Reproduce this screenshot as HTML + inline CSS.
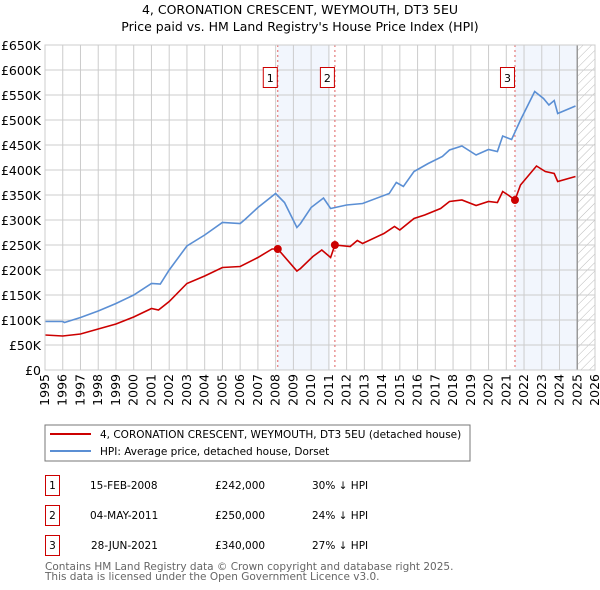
<!DOCTYPE html>
<html><head><meta charset="utf-8"><style>
body{margin:0;background:#fff;width:600px;height:590px;overflow:hidden;font-family:"DejaVu Sans","Liberation Sans",sans-serif;}
svg{position:absolute;left:0;top:0}
</style></head><body>
<svg id="c" width="600" height="590" font-family="DejaVu Sans, Liberation Sans, sans-serif">
<text x="300" y="14" text-anchor="middle" font-size="12.5">4, CORONATION CRESCENT, WEYMOUTH, DT3 5EU</text>
<text x="300" y="31" text-anchor="middle" font-size="12.5">Price paid vs. HM Land Registry's House Price Index (HPI)</text>
<defs><pattern id="h" width="6" height="6" patternUnits="userSpaceOnUse" patternTransform="rotate(45)"><line x1="0" y1="0" x2="0" y2="6" stroke="#bbb" stroke-width="1"/></pattern></defs>
<g id="g"></g>
<rect x="45" y="425" width="425" height="36" fill="#fff" stroke="#777"/>
<line x1="50" y1="434" x2="91" y2="434" stroke="#cc0000" stroke-width="2"/>
<text x="100" y="438" font-size="10.5">4, CORONATION CRESCENT, WEYMOUTH, DT3 5EU (detached house)</text>
<line x1="50" y1="451" x2="91" y2="451" stroke="#5b8fd4" stroke-width="2"/>
<text x="100" y="455" font-size="10.5">HPI: Average price, detached house, Dorset</text>
<g font-size="10.5">
<rect x="45.5" y="475.5" width="14" height="20" fill="none" stroke="#c00"/><text x="52.5" y="489" text-anchor="middle">1</text>
<text x="90" y="489">15-FEB-2008</text><text x="215" y="489">£242,000</text><text x="312" y="489">30% ↓ HPI</text>
<rect x="45.5" y="505.5" width="14" height="20" fill="none" stroke="#c00"/><text x="52.5" y="519" text-anchor="middle">2</text>
<text x="90" y="519">04-MAY-2011</text><text x="215" y="519">£250,000</text><text x="312" y="519">24% ↓ HPI</text>
<rect x="45.5" y="535.5" width="14" height="20" fill="none" stroke="#c00"/><text x="52.5" y="549" text-anchor="middle">3</text>
<text x="91" y="549">28-JUN-2021</text><text x="215" y="549">£340,000</text><text x="312" y="549">27% ↓ HPI</text>
</g>
<text x="45" y="570" font-size="10.5" fill="#666">Contains HM Land Registry data © Crown copyright and database right 2025.</text>
<text x="45" y="580" font-size="10.5" fill="#666">This data is licensed under the Open Government Licence v3.0.</text>
</svg>
<script>
const hpiYears=[1995,1996,1996.1,1997,1998,1999,2000,2001,2001.5,2002,2003,2004,2005,2006,2006.3,2007,2008,2008.5,2009.2,2009.4,2010,2010.7,2011.1,2012,2012.9,2014.4,2014.8,2015.2,2015.8,2016.6,2017.4,2017.8,2018.5,2019.3,2020,2020.5,2020.8,2021.3,2021.8,2022.6,2023.1,2023.4,2023.7,2023.9,2024.9];
const hpiValues=[97,97,95,105,118,133,150,173,172,200,248,270,295,293,302,325,353,335,285,293,325,344,323,330,333,353,375,367,397,413,427,440,448,430,441,437,468,461,500,557,543,530,539,513,528];
const ppYears=[1995,1996,1997,1998,1999,2000,2001,2001.4,2002,2003,2004,2005,2006,2007,2007.8,2008.12,2009.2,2009.4,2010.1,2010.6,2011.1,2011.34,2012.2,2012.6,2012.9,2014.1,2014.7,2015,2015.8,2016.4,2017.3,2017.8,2018.5,2019.3,2020,2020.5,2020.8,2021.1,2021.49,2021.8,2022.7,2023.2,2023.7,2023.9,2024.9];
const ppValues=[70,68,72,82,92,106,123,120,137,173,188,205,207,225,242,242,198,203,227,240,225,250,247,259,253,273,287,280,303,310,323,337,340,329,337,335,357,350,340,370,408,397,393,377,387];
const saleYears=[2008.12,2011.34,2021.49];
const saleValues=[242,250,340];
const saleLabels=["1","2","3"];
const yTicks=[0,50,100,150,200,250,300,350,400,450,500,550,600,650];
const yTickLabels=["£0","£50K","£100K","£150K","£200K","£250K","£300K","£350K","£400K","£450K","£500K","£550K","£600K","£650K"];
const xTicks=[1995,1996,1997,1998,1999,2000,2001,2002,2003,2004,2005,2006,2007,2008,2009,2010,2011,2012,2013,2014,2015,2016,2017,2018,2019,2020,2021,2022,2023,2024,2025,2026];
const X=y=>45+(y-1995)*(550/31), Y=v=>370-v*0.5;
const g=document.getElementById('g'),NS='http://www.w3.org/2000/svg';
function mk(t,a){const e=document.createElementNS(NS,t);for(const k in a)e.setAttribute(k,a[k]);g.appendChild(e);return e;}
let e;
e=mk('rect',{x:45,y:45,width:550,height:325,fill:'#fff'});


[[saleYears[0],2011.05],[saleYears[2],2025]].forEach(p=>{const a=p[0],b=p[1];e=mk('rect',{x:X(a),y:45,width:X(b)-X(a),height:325,fill:'#f2f6fd'});

});
e=mk('rect',{x:X(2025),y:45,width:X(2026)-X(2025),height:325,fill:'url(#h)'});


yTicks.forEach((v,i)=>{e=mk('line',{x1:45,x2:595,y1:Y(v),y2:Y(v),stroke:'#ccc'});


e=mk('text',{x:41,y:Y(v)+5,'text-anchor':'end','font-size':12.5});e.textContent=yTickLabels[i];

});
xTicks.forEach(t=>{e=mk('line',{x1:X(t),x2:X(t),y1:45,y2:370,stroke:'#ccc'});


e=mk('text',{x:X(t)+4,y:374,'text-anchor':'end','font-size':12.5,transform:`rotate(-90 ${X(t)+4} 374)`});e.textContent=t;

});
e=mk('line',{x1:X(2025),x2:X(2025),y1:45,y2:370,stroke:'#999','stroke-width':1.5});


saleYears.forEach((s,i)=>{e=mk('line',{x1:X(s),x2:X(s),y1:45,y2:370,stroke:'#e06060','stroke-dasharray':'2,3'});

});
const path=(xs,vs)=>xs.map((x,i)=>(i?'L':'M')+X(x).toFixed(1)+','+Y(vs[i]).toFixed(1)).join('');
e=mk('path',{d:path(hpiYears,hpiValues),fill:'none',stroke:'#5b8fd4','stroke-width':1.6});


e=mk('path',{d:path(ppYears,ppValues),fill:'none',stroke:'#cc0000','stroke-width':1.6});


saleYears.forEach((s,i)=>{e=mk('circle',{cx:X(s),cy:Y(saleValues[i]),r:4,fill:'#cc0000'});


const bx=X(s)-15;e=mk('rect',{x:bx+0.5,y:67.5,width:14,height:20,fill:'#fff',stroke:'#c00'});


e=mk('text',{x:bx+7.5,y:82,'text-anchor':'middle','font-size':11});e.textContent=saleLabels[i];

});
e=mk('rect',{x:45,y:45,width:550,height:325,fill:'none',stroke:'#ccc'});


</script>
</body></html>
